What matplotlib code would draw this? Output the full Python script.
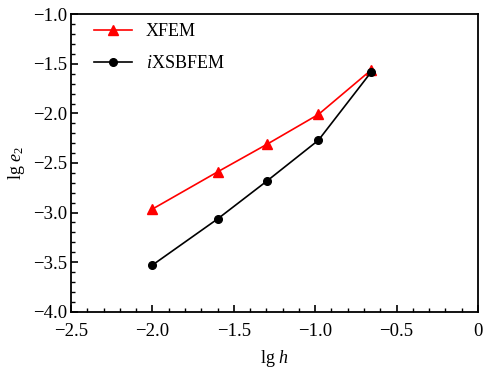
import numpy as np
import matplotlib
matplotlib.use("Agg")
import matplotlib.pyplot as plt
from matplotlib.ticker import MultipleLocator, FuncFormatter

plt.rcParams['font.family'] = ['Liberation Serif', 'DejaVu Serif']
plt.rcParams['mathtext.fontset'] = 'custom'
plt.rcParams['mathtext.rm'] = 'Liberation Serif'
plt.rcParams['mathtext.it'] = 'Liberation Serif:italic'

# data
lg_h = [-2.0, -1.6, -1.295, -0.98, -0.655]
xfem = [-2.965, -2.59, -2.31, -2.01, -1.56]
ixsbfem = [-3.53, -3.065, -2.68, -2.27, -1.58]

fig = plt.figure(figsize=(4.95, 3.74), dpi=100)
ax = fig.add_axes([0.1434, 0.1666, 0.8223, 0.7952])

ax.plot(lg_h, xfem, color='red', marker='^', markersize=6.5, lw=1.2, label='XFEM')
ax.plot(lg_h, ixsbfem, color='black', marker='o', markersize=5.5, lw=1.2, label=r'$\mathit{i}$XSBFEM')

ax.set_xlim(-2.5, 0)
ax.set_ylim(-4.0, -1.0)
ax.xaxis.set_major_locator(MultipleLocator(0.5))
ax.xaxis.set_minor_locator(MultipleLocator(0.1))
ax.yaxis.set_major_locator(MultipleLocator(0.5))
ax.yaxis.set_minor_locator(MultipleLocator(0.1))

def fmt(v, pos):
    if abs(v) < 1e-9:
        return '0'
    return ('%.1f' % v).replace('-', '\u2212')

ax.xaxis.set_major_formatter(FuncFormatter(fmt))
ax.yaxis.set_major_formatter(FuncFormatter(fmt))

ax.tick_params(which='both', direction='in', top=False, right=False, labelsize=13.5)
ax.tick_params(which='major', length=5, width=1.2)
ax.tick_params(axis='x', which='major', pad=8)
ax.tick_params(axis='y', which='major', pad=3)
ax.tick_params(which='minor', length=3, width=1)
for s in ax.spines.values():
    s.set_linewidth(1.3)

ax.set_xlabel(r'lg $\mathit{h}$', fontsize=13, labelpad=6)
ax.set_ylabel(r'lg $\mathit{e}_{2}$', fontsize=13)

ax.legend(loc='upper left', bbox_to_anchor=(0.038, 0.995), borderaxespad=0,
          frameon=False, fontsize=13, handlelength=2.1, labelspacing=0.85)

fig.savefig('out.png', dpi=100)
